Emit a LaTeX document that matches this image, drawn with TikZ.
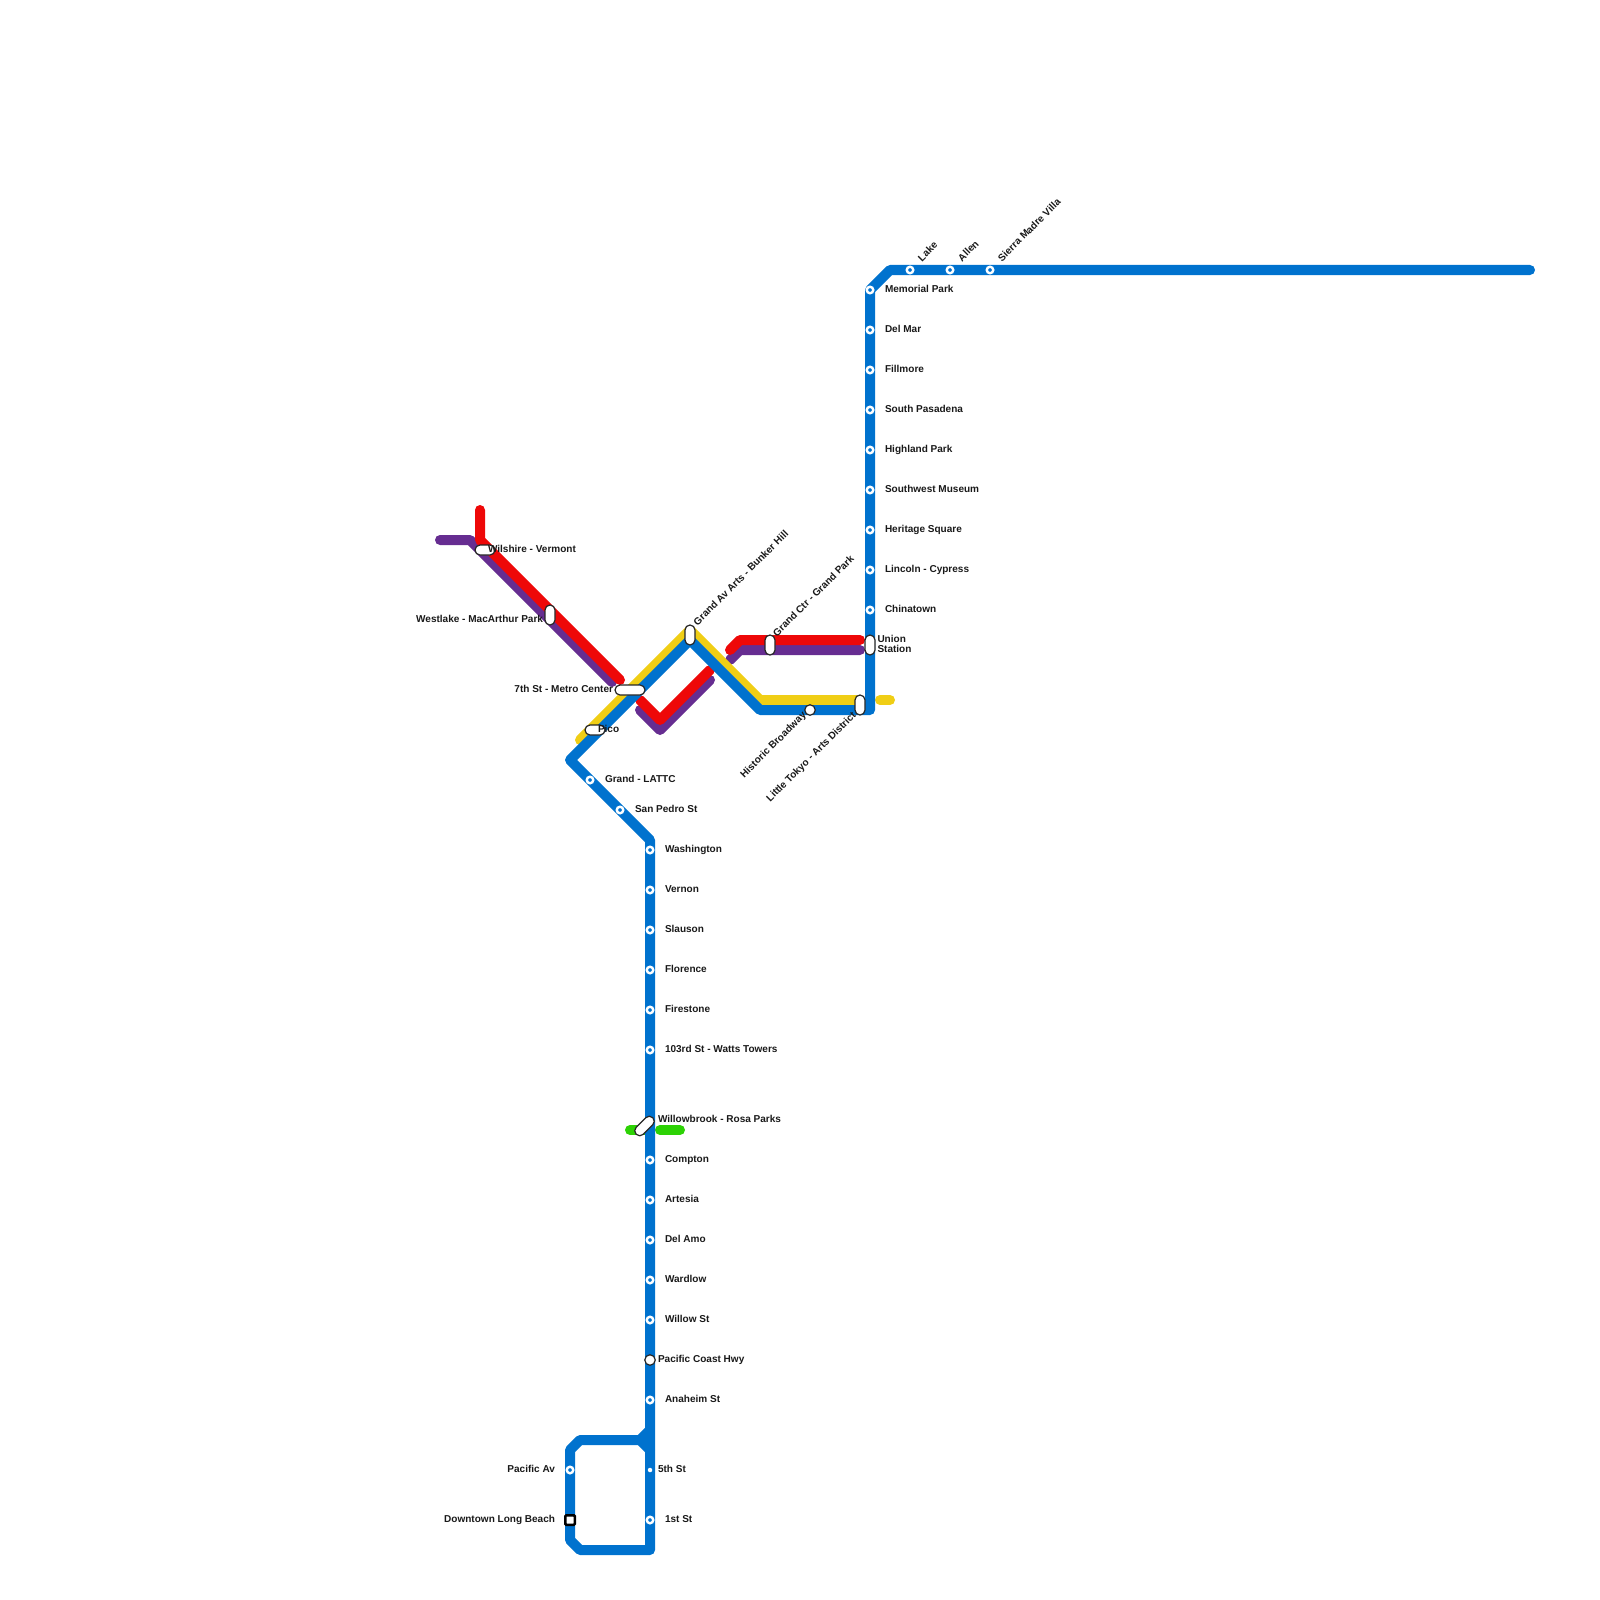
\documentclass[tikz,border=0pt]{standalone}
\usepackage{fontspec}
\setmainfont{Liberation Sans}
\usepackage{xcolor}
\usetikzlibrary{positioning}
\definecolor{metroblue}{HTML}{0072CE}
\definecolor{metrored}{HTML}{EE0808}
\definecolor{metropurple}{HTML}{662D91}
\definecolor{metrogold}{HTML}{F0CE15}
\definecolor{metrogreen}{HTML}{2DD205}
\tikzset{
    railline/.style={line width=0.1cm, line cap=round, line join=round},
    stopring/.style={circle, draw=white, line width=0.024cm, fill=metroblue, minimum size=0.065cm, inner sep=0pt, outer sep=0pt},
    stopdot/.style={circle, fill=white, minimum size=0.045cm, inner sep=0pt, outer sep=0pt},
    hubround/.style={circle, draw=black!85, line width=0.012cm, fill=white, minimum size=0.105cm, inner sep=0pt, outer sep=0pt},
    hubpill/.style={draw=black!85, line width=0.012cm, fill=white, rounded corners=0.05cm, inner sep=0pt, outer sep=0pt},
    hubsquare/.style={draw=black, line width=0.025cm, fill=white, rounded corners=0.01cm, minimum size=0.095cm, inner sep=0pt, outer sep=0pt},
    stoptag/.style={inner sep=0pt, outer sep=0pt, text=black!90, font=\fontsize{2.85}{2.85}\selectfont\bfseries}
}
\begin{document}
\begin{tikzpicture}[x=0.01cm, y=-0.01cm]
    \useasboundingbox (0,0) rectangle (1600,1600);

    % Purple line
    \draw[railline, color=metropurple] (440,540) -- (470,540) -- (612,682);
    \draw[railline, color=metropurple] (640,710) -- (660,730) -- (710,680);
    \draw[railline, color=metropurple] (730,660) -- (740,650) -- (860,650);

    % Red line
    \draw[railline, color=metrored] (480,510) -- (480,540) -- (620,680);
    \draw[railline, color=metrored] (640,700) -- (660,720) -- (710,670);
    \draw[railline, color=metrored] (730,650) -- (740,640) -- (860,640);

    % Green line stubs
    \draw[railline, color=metrogreen] (630,1130) -- (645,1130);
    \draw[railline, color=metrogreen] (660,1130) -- (680,1130);

    % Gold line
    \draw[railline, color=metrogold] (580,740) -- (690,630) -- (760,700) -- (860,700);
    \draw[railline, color=metrogold] (880,700) -- (890,700);

    % Blue line with the loop at the bottom
    \draw[railline, color=metroblue] (1530,270) -- (890,270) -- (870,290) -- (870,710) -- (760,710) -- (690,640) -- (570,760) -- (650,840) -- (650,1550) -- (580,1550) -- (570,1540) -- (570,1450) -- (580,1440) -- (640,1440) -- (650,1430);
    \draw[railline, color=metroblue] (640,1440) -- (650,1450);

    % Stops on the north stretch
    \foreach \sy/\sname/\stext in {290/memorial/Memorial Park, 330/delmar/Del Mar, 370/fillmore/Fillmore, 410/southpas/South Pasadena, 450/highland/Highland Park, 490/swmuseum/Southwest Museum, 530/heritage/Heritage Square, 570/lincoln/Lincoln - Cypress, 610/chinatown/Chinatown} {
        \node[stopring] (\sname) at (870,\sy) {};
        \node[stoptag, anchor=base west] (\sname tag) at (885,\sy+2.5) {\stext};
    }

    % Stops on the long south stretch
    \foreach \sy/\sname/\stext in {850/washington/Washington, 890/vernon/Vernon, 930/slauson/Slauson, 970/florence/Florence, 1010/firestone/Firestone, 1050/watts/103rd St - Watts Towers, 1160/compton/Compton, 1200/artesia/Artesia, 1240/delamo/Del Amo, 1280/wardlow/Wardlow, 1320/willowst/Willow St, 1400/anaheim/Anaheim St, 1520/firstst/1st St} {
        \node[stopring] (\sname) at (650,\sy) {};
        \node[stoptag, anchor=base west] (\sname tag) at (665,\sy+2.5) {\stext};
    }

    % Stops with slanted names
    \foreach \sx/\sname/\stext in {910/lake/Lake, 950/allen/Allen, 990/sierra/Sierra Madre Villa} {
        \node[stopring] (\sname) at (\sx,270) {};
        \node[stoptag, anchor=base west, rotate=45] (\sname tag) at (\sx+12,262) {\stext};
    }

    % Diagonal stops
    \node[stopring] (lattc) at (590,780) {};
    \node[stoptag, anchor=base west] (lattc tag) at (605,782.5) {Grand - LATTC};
    \node[stopring] (sanpedro) at (620,810) {};
    \node[stoptag, anchor=base west] (sanpedro tag) at (635,812.5) {San Pedro St};

    % Pacific Av and 5th St
    \node[stopring] (pacificav) at (570,1470) {};
    \node[stoptag, anchor=base east] (pacificav tag) at (555,1472.5) {Pacific Av};
    \node[stopdot] (fifthst) at (650,1470) {};
    \node[stoptag, anchor=base west] (fifthst tag) at (658,1472.5) {5th St};

    % Interchanges
    \node[hubpill, minimum width=0.2cm, minimum height=0.1cm] (wilshire) at (485,550) {};
    \node[stoptag, anchor=base west] (wilshire tag) at (488,552.5) {Wilshire - Vermont};
    \node[hubpill, minimum width=0.1cm, minimum height=0.2cm] (westlake) at (550,615) {};
    \node[stoptag, anchor=base east] (westlake tag) at (543,622.5) {Westlake - MacArthur Park};
    \node[hubpill, minimum width=0.3cm, minimum height=0.1cm] (metrocenter) at (630,690) {};
    \node[stoptag, anchor=base east] (metrocenter tag) at (613,692.5) {7th St - Metro Center};
    \node[hubpill, minimum width=0.2cm, minimum height=0.1cm] (pico) at (595,730) {};
    \node[stoptag, anchor=base west] (pico tag) at (598,732.5) {Pico};
    \node[hubpill, minimum width=0.1cm, minimum height=0.2cm] (grandav) at (690,635) {};
    \node[stoptag, anchor=base west, rotate=45] (grandav tag) at (697.5,626) {Grand Av Arts - Bunker Hill};
    \node[hubpill, minimum width=0.1cm, minimum height=0.2cm] (grandctr) at (770,645) {};
    \node[stoptag, anchor=base west, rotate=45] (grandctr tag) at (777,637) {Grand Ctr - Grand Park};
    \node[hubpill, minimum width=0.1cm, minimum height=0.2cm] (union) at (870,645) {};
    \node[stoptag, anchor=west, align=left] (union tag) at (877.5,643.5) {Union\\Station};
    \node[hubpill, minimum width=0.1cm, minimum height=0.2cm] (littletokyo) at (860,705) {};
    \node[stoptag, anchor=base east, rotate=45] (littletokyo tag) at (856.5,716) {Little Tokyo - Arts District};
    \node[hubround] (broadway) at (810,710) {};
    \node[stoptag, anchor=base east, rotate=45] (broadway tag) at (806.5,716) {Historic Broadway};
    \node[hubpill, rotate=45, minimum width=0.235cm, minimum height=0.1cm] (willowbrook) at (644.5,1126) {};
    \node[stoptag, anchor=base west] (willowbrook tag) at (658,1122.5) {Willowbrook - Rosa Parks};
    \node[hubround] (pch) at (650,1360) {};
    \node[stoptag, anchor=base west] (pch tag) at (658,1362.5) {Pacific Coast Hwy};
    \node[hubsquare] (longbeach) at (570,1520) {};
    \node[stoptag, anchor=base east] (longbeach tag) at (555,1522.5) {Downtown Long Beach};
\end{tikzpicture}
\end{document}
